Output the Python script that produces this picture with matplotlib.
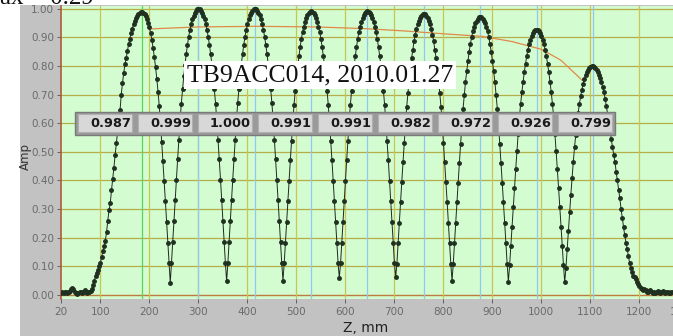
import numpy as np
import matplotlib
matplotlib.use("Agg")
import matplotlib.pyplot as plt
from matplotlib.patches import Rectangle

# ---------------- data ----------------
step_mm = 2.5
cell_start_z = [20.5, 243.0, 358.0, 473.0, 588.0, 703.0, 818.0, 933.0, 1048.0]

cell1_amp = [0.008, 0.010, 0.006, 0.009, 0.012, 0.008, 0.010, 0.014, 0.020, 0.026,
             0.022, 0.012, 0.006, 0.004, 0.008, 0.012, 0.010, 0.006, 0.010, 0.016,
             0.012, 0.008, 0.012, 0.010, 0.014, 0.022, 0.035, 0.050, 0.066, 0.078,
             0.088, 0.100, 0.113, 0.133, 0.155, 0.172, 0.190, 0.220, 0.260, 0.295,
             0.320, 0.365, 0.405, 0.445, 0.490, 0.530, 0.570, 0.610, 0.645, 0.700,
             0.740, 0.775, 0.805, 0.826, 0.852, 0.875, 0.895, 0.915, 0.930, 0.945,
             0.958, 0.968, 0.975, 0.981, 0.985, 0.987, 0.987,
             0.985, 0.980, 0.973, 0.963, 0.950, 0.934, 0.914, 0.890, 0.862, 0.830,
             0.795, 0.755, 0.710, 0.660, 0.600, 0.535, 0.468, 0.398, 0.328, 0.255,
             0.183, 0.110]
cell2_amp = [0.042, 0.111, 0.185, 0.258, 0.332, 0.403, 0.474, 0.541, 0.607, 0.668,
             0.718, 0.764, 0.804, 0.840, 0.872, 0.901, 0.925, 0.945, 0.962, 0.975,
             0.985, 0.992, 0.997, 0.999, 0.997, 0.992, 0.985, 0.975, 0.962, 0.945,
             0.925, 0.901, 0.872, 0.840, 0.804, 0.764, 0.718, 0.668, 0.607, 0.541,
             0.474, 0.403, 0.332, 0.258, 0.185, 0.111]
cell3_amp = [0.048, 0.111, 0.185, 0.258, 0.332, 0.403, 0.474, 0.542, 0.608, 0.669,
             0.719, 0.765, 0.805, 0.841, 0.873, 0.902, 0.926, 0.946, 0.963, 0.976,
             0.986, 0.993, 0.998, 1.000, 0.998, 0.993, 0.986, 0.976, 0.963, 0.946,
             0.926, 0.902, 0.873, 0.841, 0.805, 0.765, 0.719, 0.669, 0.608, 0.542,
             0.474, 0.403, 0.332, 0.258, 0.185, 0.111]
cell4_amp = [0.050, 0.110, 0.183, 0.256, 0.329, 0.399, 0.470, 0.537, 0.603, 0.663,
             0.713, 0.758, 0.798, 0.833, 0.865, 0.894, 0.918, 0.937, 0.954, 0.967,
             0.977, 0.984, 0.989, 0.991, 0.989, 0.984, 0.977, 0.967, 0.954, 0.937,
             0.918, 0.894, 0.865, 0.833, 0.798, 0.758, 0.713, 0.663, 0.603, 0.537,
             0.470, 0.399, 0.329, 0.256, 0.183, 0.110]
cell5_amp = [0.060, 0.110, 0.183, 0.256, 0.329, 0.399, 0.470, 0.537, 0.603, 0.663,
             0.713, 0.758, 0.798, 0.833, 0.865, 0.894, 0.918, 0.937, 0.954, 0.967,
             0.977, 0.984, 0.989, 0.991, 0.989, 0.984, 0.977, 0.967, 0.954, 0.937,
             0.918, 0.894, 0.865, 0.833, 0.798, 0.758, 0.713, 0.663, 0.603, 0.537,
             0.470, 0.399, 0.329, 0.256, 0.183, 0.110]
cell6_amp = [0.062, 0.109, 0.182, 0.253, 0.326, 0.396, 0.465, 0.532, 0.597, 0.657,
             0.706, 0.751, 0.791, 0.826, 0.857, 0.886, 0.909, 0.929, 0.946, 0.958,
             0.968, 0.975, 0.980, 0.982, 0.980, 0.975, 0.968, 0.958, 0.946, 0.929,
             0.909, 0.886, 0.857, 0.826, 0.791, 0.751, 0.706, 0.657, 0.597, 0.532,
             0.465, 0.396, 0.326, 0.253, 0.182, 0.109]
cell7_amp = [0.050, 0.108, 0.180, 0.251, 0.323, 0.392, 0.461, 0.527, 0.591, 0.650,
             0.699, 0.744, 0.782, 0.817, 0.849, 0.877, 0.900, 0.920, 0.936, 0.949,
             0.958, 0.965, 0.970, 0.972, 0.970, 0.965, 0.958, 0.949, 0.936, 0.920,
             0.900, 0.877, 0.849, 0.817, 0.782, 0.744, 0.699, 0.650, 0.591, 0.527,
             0.461, 0.392, 0.323, 0.251, 0.180, 0.108]
cell8_amp = [0.046, 0.103, 0.171, 0.239, 0.307, 0.373, 0.439, 0.502, 0.563, 0.619,
             0.666, 0.708, 0.745, 0.779, 0.808, 0.835, 0.857, 0.876, 0.892, 0.904,
             0.913, 0.920, 0.924, 0.926, 0.924, 0.920, 0.913, 0.904, 0.892, 0.876,
             0.857, 0.835, 0.808, 0.779, 0.745, 0.708, 0.666, 0.619, 0.563, 0.502,
             0.439, 0.373, 0.307, 0.239, 0.171, 0.103]
cell9_amp = [0.045, 0.095, 0.160, 0.225, 0.290, 0.350, 0.410, 0.465, 0.515, 0.560,
             0.600, 0.637, 0.667, 0.694, 0.717, 0.737, 0.753, 0.767, 0.778, 0.787,
             0.793, 0.797, 0.799, 0.799,
             0.797, 0.793, 0.787, 0.779, 0.769, 0.757, 0.742, 0.726, 0.707, 0.686,
             0.660, 0.632, 0.603, 0.574, 0.545, 0.516, 0.490, 0.465, 0.430, 0.400,
             0.368, 0.337, 0.300, 0.268, 0.238, 0.208, 0.183, 0.162, 0.135, 0.112,
             0.094, 0.079, 0.068, 0.062, 0.055, 0.046, 0.038, 0.031, 0.026, 0.022,
             0.018, 0.020, 0.016, 0.012, 0.010, 0.014, 0.018, 0.012, 0.008, 0.010,
             0.006, 0.009, 0.013, 0.010, 0.007, 0.011, 0.014, 0.009, 0.006, 0.010,
             0.012, 0.008, 0.006, 0.009, 0.011]

cells_amp = [cell1_amp, cell2_amp, cell3_amp, cell4_amp, cell5_amp,
             cell6_amp, cell7_amp, cell8_amp, cell9_amp]

peak_z = [185.5, 300.5, 415.5, 530.5, 645.5, 760.5, 875.5, 990.5, 1105.5]
peak_labels = ["0.987", "0.999", "1.000", "0.991", "0.991", "0.982", "0.972", "0.926", "0.799"]

env_z = [202, 300, 420, 540, 640, 720, 800, 880, 940, 1000, 1040, 1084]
env_amp = [0.929, 0.936, 0.938, 0.936, 0.930, 0.922, 0.912, 0.903, 0.885, 0.858, 0.820, 0.749]

x_ticks = [20, 100, 200, 300, 400, 500, 600, 700, 800, 900, 1000, 1100, 1200, 1290]
y_ticks = [0.0, 0.1, 0.2, 0.3, 0.4, 0.5, 0.6, 0.7, 0.8, 0.9, 1.0]

title_text = "TB9ACC014, 2010.01.27"
corner_text = "ax = 0.29"

# ---------------- figure ----------------
W, H = 673, 336
fig = plt.figure(figsize=(W / 100, H / 100), dpi=100)
fig.patch.set_facecolor("white")

def fx(px):
    return px / W

def fy(py):
    return 1 - py / H

# gray panel (background, below the axes)
fig.patches.append(Rectangle((fx(20), 0), 1 - fx(20), fy(5), transform=fig.transFigure,
                             facecolor="#c2c2c2", edgecolor="none", zorder=-10))

ax_left, ax_right = 61, 683.3
ax_top, ax_bot = 6, 299
ax = fig.add_axes([fx(ax_left), fy(ax_bot), fx(ax_right - ax_left), (ax_bot - ax_top) / H])
ax.set_zorder(1)
ax.set_facecolor("#d3fcd0")
ax.set_xlim(20, 1290)
ax.set_ylim(-0.014, 1.009)

# grid
for yv in y_ticks[1:]:
    ax.axhline(yv, color="#b4ae4a", lw=0.9, zorder=1)
ax.axhline(0.0, color="#c07a40", lw=1.0, zorder=1)
for xv in x_ticks[1:-1]:
    ax.axvline(xv, color="#c8c455", lw=0.9, zorder=1)
peak_line_colors = ["#5ad45a"] + ["#90c8f0"] * 8
for zc, col in zip(peak_z, peak_line_colors):
    ax.axvline(zc, color=col, lw=0.9, zorder=1.5)

# envelope line
ax.plot(env_z, env_amp, color="#e08a48", lw=0.9, zorder=2)

# measured curve
z_all, a_all = [], []
for z0, amp in zip(cell_start_z, cells_amp):
    z_all.append(z0 + step_mm * np.arange(len(amp)))
    a_all.append(np.asarray(amp))
z_all = np.concatenate(z_all)
a_all = np.concatenate(a_all)
ax.plot(z_all, a_all, color="#1e2a1e", lw=0.7, marker="o", markersize=2.5,
        markerfacecolor="#203020", markeredgecolor="#203020", zorder=3)

# axes styling
for s in ["top", "right", "bottom"]:
    ax.spines[s].set_visible(False)
ax.spines["left"].set_color("#b05a3c")
ax.spines["left"].set_linewidth(1.2)
ax.set_xticks(x_ticks)
ax.set_xticklabels([str(v) for v in x_ticks])
ax.set_yticks(y_ticks)
ax.set_yticklabels(["%.2f" % v for v in y_ticks])
ax.tick_params(axis="both", direction="out", length=3, width=0.6, color="#505050",
               labelsize=7.5, labelcolor="#6a6a6a", pad=2)
ax.tick_params(axis="x", pad=3)

fig.text(fx(25), fy(156), "Amp", rotation=90, ha="center", va="center",
         fontsize=8.5, color="#333333")
fig.text(fx(366), fy(328), "Z, mm", ha="center", va="center", fontsize=10, color="#222222")

# title with white box
fig.text(fx(320), fy(75), title_text, ha="center", va="center",
         fontsize=18.5, family="Liberation Serif", color="#111111",
         bbox=dict(boxstyle="square,pad=0.12", facecolor="white", edgecolor="none"),
         zorder=5)

# corner text, cut by top edge
fig.text(fx(0), fy(4), corner_text, ha="left", va="baseline",
         fontsize=18, family="Liberation Serif", color="#111111")

# value boxes
x0, cw = 75, 60
y_top, y_bottom = 111.5, 135
fig.patches.append(Rectangle((fx(x0), fy(y_bottom)), fx(cw * 9), (y_bottom - y_top) / H,
                             transform=fig.transFigure, facecolor="#9a9a9a",
                             edgecolor="#7a7a7a", lw=1.0, zorder=6))
for j, lab in enumerate(peak_labels):
    left = x0 + cw * j
    fig.patches.append(Rectangle((fx(left + 3), fy(y_bottom - 3)), fx(cw - 6),
                                 (y_bottom - y_top - 6) / H, transform=fig.transFigure,
                                 facecolor="#d8d8d8", edgecolor="#b0b0b0", lw=0.8, zorder=7))
    fig.text(fx(left + cw - 4), fy((y_top + y_bottom) / 2 + 0.5), lab, ha="right", va="center",
             fontsize=9.3, fontweight="bold", color="#1a1a1a", zorder=8)

fig.savefig("out.png", dpi=100, facecolor=fig.get_facecolor())
